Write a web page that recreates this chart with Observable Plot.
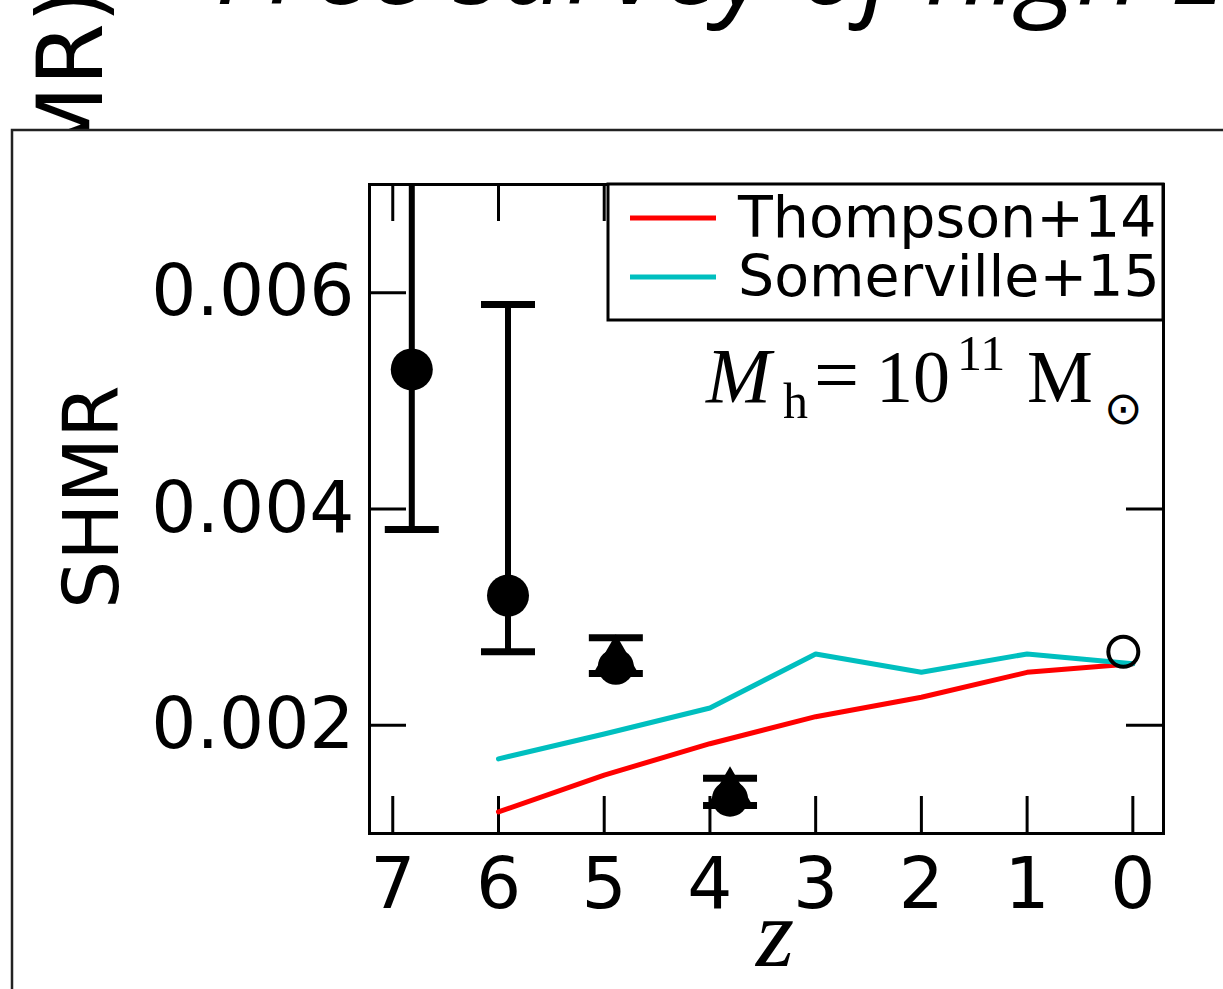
<!DOCTYPE html>
<html>
<head>
<meta charset="utf-8">
<script src="https://cdn.jsdelivr.net/npm/d3@7"></script>
<script src="https://cdn.jsdelivr.net/npm/@observablehq/plot@0.6"></script>
<style>
  html, body { margin: 0; padding: 0; background: white; }
  body { width: 1223px; height: 989px; overflow: hidden; }
</style>
</head>
<body>
<div id="chart"></div>
<script>
// ---- data ----
const obsZ      = [6.82, 5.91, 4.89, 3.81];
const obsShmr   = [0.00529, 0.00320, 0.00256, 0.00134];
const obsLow    = [0.00381, 0.00268, 0.00248, 0.00126];
const obsHigh   = [0.00850, 0.00589, 0.00281, 0.00151];
const obsShape  = ["circle", "circle", "triangle", "triangle"];

const openZ     = [0.09];
const openShmr  = [0.00268];

const modelZ     = [6, 5, 4, 3, 2, 1, 0];
const thompson14 = [0.00120, 0.00154, 0.00183, 0.00208, 0.00226, 0.00249, 0.00257];
const somerville15 = [0.00169, 0.00192, 0.00216, 0.00266, 0.00249, 0.00266, 0.00257];

const xTicks = [7, 6, 5, 4, 3, 2, 1, 0];
const yTicks = [0.002, 0.004, 0.006];
const seriesNames = ["Thompson+14", "Somerville+15"];
const seriesColors = ["#ff0000", "#00bfbf"];

// ---- tables built from the arrays ----
const obs = obsZ.map((z, i) => ({z, v: obsShmr[i], lo: obsLow[i], hi: obsHigh[i], shape: obsShape[i]}));
const caps = obs.flatMap(d => [{z: d.z, v: d.lo}, ...(d.hi < 0.007 ? [{z: d.z, v: d.hi}] : [])]);
const openPts = openZ.map((z, i) => ({z, v: openShmr[i]}));
const lines = [
  ...modelZ.map((z, i) => ({z, v: thompson14[i], s: seriesNames[0]})),
  ...modelZ.map((z, i) => ({z, v: somerville15[i], s: seriesNames[1]}))
];

const frameW = 1163 - 369, frameH = 833 - 184, tickLen = 37;
const capSymbol = {draw(ctx) { ctx.moveTo(-27, 0); ctx.lineTo(27, 0); }};

const svg = Plot.plot({
  width: 1223,
  height: 989,
  marginLeft: 369,
  marginRight: 60,
  marginTop: 184,
  marginBottom: 156,
  style: {fontFamily: "DejaVu Sans", fontSize: "71px", color: "black", background: "transparent", overflow: "visible"},
  x: {domain: [7.22, -0.29]},
  y: {domain: [0.001, 0.007]},
  color: {domain: seriesNames, range: seriesColors},
  marks: [
    Plot.axisX(xTicks, {tickSize: 0, tickPadding: 24, tickFormat: d => String(d), label: null}),
    Plot.axisY(yTicks, {tickSize: 0, tickPadding: 15, tickFormat: d3.format(".3f"), label: null}),
    // inward ticks on all four sides
    Plot.tickX(xTicks, {x: d => d, insetTop: frameH - tickLen, stroke: "black", strokeWidth: 3}),
    Plot.tickX(xTicks, {x: d => d, insetBottom: frameH - tickLen, stroke: "black", strokeWidth: 3}),
    Plot.tickY(yTicks, {y: d => d, insetRight: frameW - tickLen, stroke: "black", strokeWidth: 3}),
    Plot.tickY(yTicks, {y: d => d, insetLeft: frameW - tickLen, stroke: "black", strokeWidth: 3}),
    Plot.line(lines, {x: "z", y: "v", z: "s", stroke: "s", strokeWidth: 5}),
    Plot.ruleX(obs, {x: "z", y1: "lo", y2: "hi", stroke: "black", strokeWidth: 6, clip: true}),
    Plot.dot(caps, {x: "z", y: "v", symbol: capSymbol, stroke: "black", strokeWidth: 7, fill: "none", r: 10}),
    Plot.dot(obs.filter(d => d.shape === "circle"), {x: "z", y: "v", symbol: "circle", r: 21, fill: "black", stroke: "none"}),
    Plot.dot(obs.filter(d => d.shape === "triangle"), {x: "z", y: "v", symbol: "circle", r: 18, fill: "black", stroke: "none", dy: 2}),
    Plot.dot(obs.filter(d => d.shape === "triangle"), {x: "z", y: "v", symbol: "triangle", r: 17, fill: "black", stroke: "none", dy: -4}),
    Plot.dot(openPts, {x: "z", y: "v", symbol: "circle", r: 15, fill: "none", stroke: "black", strokeWidth: 4}),
    Plot.frame({stroke: "black", strokeWidth: 3})
  ]
});

const root = d3.select(svg);

// background slide fragments (behind the chart)
const bg = root.insert("g", ":first-child").attr("text-anchor", "start");
bg.append("text")
  .attr("x", 215).attr("y", 4)
  .attr("font-family", "Open Sans").attr("font-style", "italic").attr("font-size", 112)
  .attr("fill", "black")
  .text("Free survey of high-z");
bg.append("text")
  .attr("transform", "translate(102,-12) rotate(-90)")
  .attr("text-anchor", "end")
  .attr("font-family", "DejaVu Sans").attr("font-size", 90)
  .attr("fill", "black")
  .text("log(SHMR)");
bg.append("rect")
  .attr("x", 12).attr("y", 130).attr("width", 1400).attr("height", 1000)
  .attr("fill", "white").attr("stroke", "#222").attr("stroke-width", 2.5);

// axis titles
root.append("text")
  .attr("transform", "translate(118,497) rotate(-90)")
  .attr("text-anchor", "middle")
  .attr("font-family", "DejaVu Sans").attr("font-size", 76).attr("fill", "black")
  .text("SHMR");
root.append("text")
  .attr("x", 775).attr("y", 966)
  .attr("text-anchor", "middle")
  .attr("font-family", "Liberation Serif").attr("font-style", "italic").attr("font-size", 98).attr("fill", "black")
  .text("z");

// legend
const lg = root.append("g").attr("text-anchor", "start");
lg.append("rect").attr("x", 608).attr("y", 184).attr("width", 555).attr("height", 136)
  .attr("fill", "white").attr("stroke", "black").attr("stroke-width", 3);
seriesNames.forEach((name, i) => {
  const yy = [218, 277][i];
  lg.append("line").attr("x1", 630).attr("x2", 716).attr("y1", yy).attr("y2", yy)
    .attr("stroke", seriesColors[i]).attr("stroke-width", 5);
  lg.append("text").attr("x", 738).attr("y", [237, 296][i])
    .attr("font-family", "DejaVu Sans").attr("font-size", 57).attr("fill", "black")
    .text(name);
});

// annotation M_h = 10^11 M_sun
const ann = root.append("g").attr("text-anchor", "start").attr("font-family", "Liberation Serif, DejaVu Serif").attr("fill", "black");
ann.append("text").attr("x", 706).attr("y", 402).attr("font-size", 78).attr("font-style", "italic").text("M");
ann.append("text").attr("x", 783).attr("y", 418).attr("font-size", 50).text("h");
ann.append("text").attr("x", 814).attr("y", 402).attr("font-size", 80).text("=");
ann.append("text").attr("x", 876).attr("y", 402).attr("font-size", 74).text("10");
ann.append("text").attr("x", 957).attr("y", 370).attr("font-size", 50).text("11");
ann.append("text").attr("x", 1027).attr("y", 402).attr("font-size", 74).text("M");
ann.append("text").attr("x", 1104).attr("y", 424).attr("font-size", 46).attr("font-family", "DejaVu Sans").text("⊙");

document.getElementById("chart").appendChild(svg);
</script>
</body>
</html>
